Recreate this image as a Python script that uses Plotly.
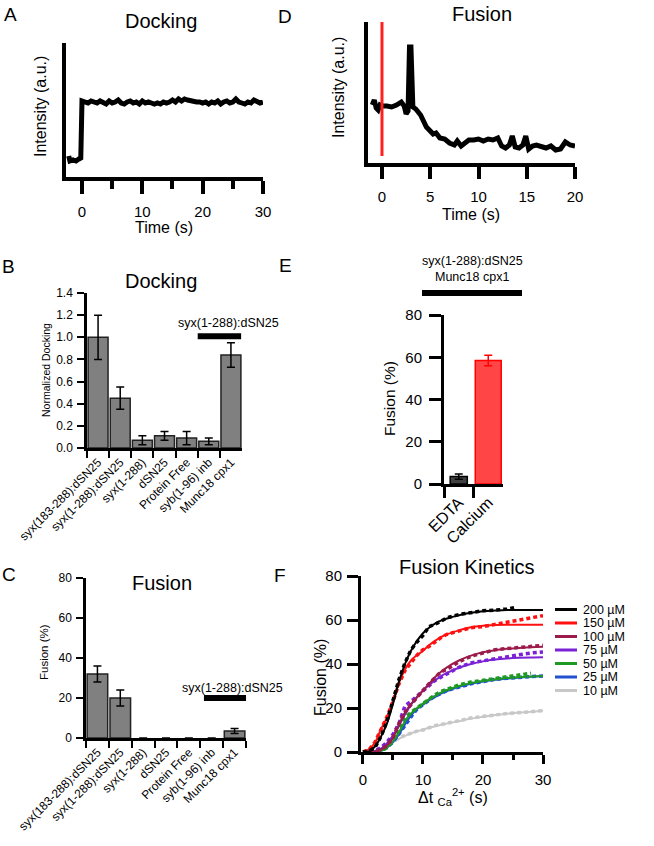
import plotly.graph_objects as go

W, H = 654, 846
FONT = "Liberation Sans, Arial, sans-serif"

# ---------------- Panel A: docking trace ----------------
dock_t = [-2.2, -2.0, -1.5, -1.0, -0.5, -0.2, 0.0, 0.5, 1.0, 1.5, 2.0, 2.5, 3.0, 3.5, 4.0, 4.5,
          5.0, 5.5, 6.0, 6.5, 7.0, 7.5, 8.0, 8.5, 9.0, 9.5, 10.0, 10.5, 11.0, 11.5, 12.0, 12.5,
          13.0, 13.5, 14.0, 14.5, 15.0, 15.5, 16.0, 16.5, 17.0, 17.5, 18.0, 18.5, 19.0, 19.5,
          20.0, 20.5, 21.0, 21.5, 22.0, 22.5, 23.0, 23.5, 24.0, 24.5, 25.0, 25.5, 26.0, 26.5,
          27.0, 27.5, 28.0, 28.5, 29.0, 29.5, 30.0]
dock_i = [21, 16, 17, 16, 18, 19, 76, 75, 74, 76, 75, 74, 76, 75, 73, 76,
          74, 75, 77, 74, 73, 75, 76, 74, 75, 73, 76, 74, 75, 74, 73, 74,
          73, 75, 74, 75, 77, 75, 78, 76, 78, 77, 76, 76, 75, 75,
          74, 75, 73, 75, 74, 76, 73, 75, 76, 74, 75, 78, 75, 74,
          73, 75, 74, 77, 76, 74, 75]

# ---------------- Panel D: fusion trace ----------------
fus_t = [-1.0, -0.8, -0.6, -0.4, -0.2, 0.0, 0.5, 1.0, 1.5, 2.0, 2.3, 2.5, 2.7, 2.85, 3.0, 3.2,
         3.5, 4.0, 4.3, 4.6, 5.0, 5.3, 5.6, 6.0, 6.5, 7.0, 7.5, 7.8, 8.2, 8.6, 9.0, 9.5,
         10.0, 10.5, 11.0, 11.5, 12.0, 12.4, 12.8, 13.2, 13.5, 13.8, 14.2, 14.6, 14.9, 15.2,
         15.6, 16.0, 16.5, 17.0, 17.5, 18.0, 18.5, 19.0, 19.5, 20.0]
fus_i = [58, 63, 55, 53, 58, 57, 57, 56, 58, 61, 57, 49, 52, 116, 116, 56,
         54, 48, 42, 36, 32, 29, 30, 25, 24, 20, 18, 22, 17, 20, 23, 23,
         24, 22, 24, 23, 25, 17, 15, 18, 27, 16, 15, 18, 27, 14,
         17, 18, 16, 15, 17, 13, 14, 21, 18, 17]
ca_marker_t = 0

# ---------------- Panels B / C: bar charts ----------------
conditions = ["syx(183-288):dSN25", "syx(1-288):dSN25", "syx(1-288)", "dSN25",
              "Protein Free", "syb(1-96) inb", "Munc18 cpx1"]
docking_norm = [1.0, 0.45, 0.07, 0.11, 0.09, 0.06, 0.84]
docking_err = [0.2, 0.1, 0.04, 0.04, 0.06, 0.03, 0.11]
fusion_pct = [32, 20, 0, 0, 0, 0, 3.5]
fusion_err = [4, 4, None, None, None, None, 1.2]

# ---------------- Panel E ----------------
e_conditions = ["EDTA", "Calcium"]
e_fusion = [3.5, 58.5]
e_err = [1.2, 2.5]
e_fill = ["#404040", "#ff4545"]
e_edge = ["#000000", "#ff0000"]
e_width = [0.58, 0.88]

# ---------------- Panel F: fusion kinetics ----------------
kin_t = [0, 1, 2, 3, 4, 5, 6, 7, 8, 9, 10, 11, 12, 13, 14, 16, 18, 20, 22, 24, 26, 28, 30]
kin_labels = ["200 µM", "150 µM", "100 µM", "75 µM", "50 µM", "25 µM", "10 µM"]
kin_colors = ["#000000", "#ff1010", "#9b1b4b", "#7b22d6", "#1e9a22", "#2050d0", "#c8c8c8"]
fit_200 = [0, 0.3, 2.5, 7, 13, 22, 32, 40, 46, 50.5, 54, 56.5, 58.4, 59.7, 60.7, 62.2, 63.3, 64, 64.3, 64.5, 64.5, 64.5, 64.5]
fit_150 = [0, 1.2, 4.3, 10.4, 15.7, 23, 31.5, 37.5, 41.6, 44, 46, 48.5, 50.5, 52.2, 53.5, 55.3, 56.7, 57.4, 57.7, 57.8, 57.8, 57.8, 57.8]
fit_100 = [0, 0, 0.3, 1, 3, 6.5, 12.5, 18, 21.8, 24.8, 27.9, 31, 34, 36.5, 38.5, 41.6, 43.8, 45.3, 46.3, 46.9, 47.3, 47.6, 47.8]
fit_75 = [0, 0, 0.5, 1.5, 4, 7.5, 12, 17, 21.5, 25, 28, 30.5, 32.5, 34.5, 36, 38.3, 40, 41.2, 42, 42.5, 42.8, 43, 43.1]
fit_50 = [0, 0, 0, 0.5, 2, 5, 9, 14, 17.5, 20, 22, 24, 25.5, 27, 28.2, 30, 31.3, 32.3, 33, 33.6, 34, 34.3, 34.5]
fit_25 = [0, 0, 0, 0.5, 2, 4.5, 8, 12.5, 16.5, 19.5, 21.5, 23.5, 25, 26.5, 27.7, 29.6, 31, 32, 32.8, 33.4, 33.9, 34.2, 34.5]
fit_10 = [0, 0, 0.5, 1.5, 3, 4.5, 6, 7.3, 8.5, 9.4, 10.2, 11, 11.7, 12.4, 13, 14, 15.2, 16, 16.8, 17.4, 17.9, 18.3, 18.8]

dat_t_200 = [0, 1, 2, 3, 4, 5, 6, 7, 8, 9, 10, 11, 12, 13, 14, 16, 18, 20, 22, 24, 25.5]
dat_200 = [0, 0.5, 2, 7, 14, 23, 33, 40.5, 46.5, 50, 53, 57, 58, 59.5, 61, 62.5, 63.5, 64.2, 64.5, 65, 65.8]
dat_150 = [0, 1, 4.5, 10, 16, 23, 31, 37, 40.5, 44, 46.5, 48, 50, 52, 53.5, 55, 56.5, 57, 58, 59, 60, 61, 62]
dat_100 = [0, 0, 0.5, 1, 3, 6.5, 13, 18, 21.5, 25, 28, 31, 33.5, 36.5, 37.5, 41, 43.5, 45, 46.5, 47, 47.5, 48, 48.5]
dat_75 = [0, 0, 0.5, 2, 4.5, 8, 13, 21, 23, 25.5, 28, 30, 32.5, 34, 35.5, 38.5, 40.5, 41.5, 42.5, 43.5, 44.2, 45, 45.5]
dat_t_50 = [0, 1, 2, 3, 4, 5, 6, 7, 8, 9, 10, 11, 12, 13, 14, 16, 18, 20, 22, 24, 26, 28]
dat_50 = [0, 0, 0, 0.5, 2, 5, 10, 15.5, 18, 20, 22, 24, 26, 27.5, 28.5, 30.5, 31.8, 32.5, 33.5, 34, 35, 35.8]
dat_25 = [0, 0, 0, 0.5, 2, 4.5, 8, 12, 16, 19.5, 21.5, 23.5, 25.5, 26.5, 28, 29.5, 31, 32, 33, 33.5, 34, 34.3, 34.5]
dat_10 = [0, 0, 0.5, 1.5, 3, 4.5, 6.5, 7.5, 8.5, 9.5, 10, 11, 12, 12.5, 13, 14.2, 15.5, 16, 16.8, 17.5, 17.8, 18.3, 18.8]

fits = [fit_200, fit_150, fit_100, fit_75, fit_50, fit_25, fit_10]
dats = [(dat_t_200, dat_200), (kin_t, dat_150), (kin_t, dat_100), (kin_t, dat_75),
        (dat_t_50, dat_50), (kin_t, dat_25), (kin_t, dat_10)]


def dom_x(a, b):
    return [a / W, b / W]


def dom_y(top, bottom):
    return [1 - bottom / H, 1 - top / H]


fig = go.Figure()

# A
fig.add_trace(go.Scatter(x=dock_t, y=dock_i, mode="lines", line=dict(color="black", width=5),
                         xaxis="x", yaxis="y", showlegend=False))
# D
fig.add_trace(go.Scatter(x=fus_t, y=fus_i, mode="lines", line=dict(color="black", width=5),
                         xaxis="x2", yaxis="y2", showlegend=False))
# B
fig.add_trace(go.Bar(x=conditions, y=docking_norm, width=0.9,
                     marker=dict(color="#808080", line=dict(color="#222222", width=1.5)),
                     error_y=dict(type="data", array=docking_err, color="black", thickness=1.5, width=4),
                     xaxis="x3", yaxis="y3", showlegend=False))
# E
for k in range(len(e_conditions)):
    fig.add_trace(go.Bar(x=[e_conditions[k]], y=[e_fusion[k]], width=e_width[k],
                         marker=dict(color=e_fill[k], line=dict(color=e_edge[k], width=1.5)),
                         error_y=dict(type="data", array=[e_err[k]], color=e_edge[k], thickness=1.5, width=4),
                         xaxis="x4", yaxis="y4", showlegend=False))
# C (zero-height bars drawn without an outline)
fig.add_trace(go.Bar(x=conditions, y=fusion_pct, width=0.9,
                     marker=dict(color="#808080",
                                 line=dict(color="#222222", width=[1.5 if v > 0 else 0 for v in fusion_pct])),
                     error_y=dict(type="data", array=fusion_err, color="black", thickness=1.5, width=4),
                     xaxis="x5", yaxis="y5", showlegend=False))
# F
for i in reversed(range(len(fits))):
    tx, ty = dats[i]
    fig.add_trace(go.Scatter(x=tx, y=ty, mode="lines",
                             line=dict(color=kin_colors[i], width=3.5, dash="4px,3px"),
                             xaxis="x6", yaxis="y6", showlegend=False))
    fig.add_trace(go.Scatter(x=kin_t, y=fits[i], mode="lines", name=kin_labels[i],
                             line=dict(color=kin_colors[i], width=2, shape="spline"),
                             xaxis="x6", yaxis="y6", showlegend=False))

base_axis = dict(showline=True, linecolor="black", showgrid=False, zeroline=False, automargin=False,
                 tickcolor="black", tickfont=dict(family=FONT, color="black"))


def ax(**kw):
    d = dict(base_axis)
    d.update(kw)
    return d


ncat = len(conditions)
layout = dict(
    template="none",
    width=W, height=H, margin=dict(l=0, r=0, t=0, b=0, autoexpand=False),
    paper_bgcolor="white", plot_bgcolor="white", showlegend=False, barmode="overlay",
    font=dict(family=FONT, color="black"), bargap=0.1,
    # A
    xaxis=ax(domain=dom_x(66, 263), anchor="y", range=[-2.65, 30], linewidth=4,
             ticks="outside", ticklen=13, tickwidth=4, tickvals=[0, 10, 20, 30],
             tickfont=dict(size=15, family=FONT, color="black"), ticklabelstandoff=5,
             minor=dict(tickvals=[5, 15, 25], ticks="outside", ticklen=8, tickwidth=4, tickcolor="black")),
    yaxis=ax(domain=dom_y(43, 177), anchor="x", range=[0, 134], linewidth=4,
             showticklabels=False, ticks=""),
    # D
    xaxis2=ax(domain=dom_x(368, 575), anchor="y2", range=[-1.45, 20], linewidth=3.5,
              ticks="outside", ticklen=12, tickwidth=3.5, tickvals=[0, 5, 10, 15, 20],
              tickfont=dict(size=15, family=FONT, color="black"), ticklabelstandoff=5),
    yaxis2=ax(domain=dom_y(22, 163), anchor="x2", range=[0, 141], linewidth=3.5,
              showticklabels=False, ticks=""),
    # B
    xaxis3=ax(domain=dom_x(87, 242), anchor="y3", type="category", linewidth=2.5,
              range=[-0.5, ncat - 0.5],
              ticks="outside", ticklen=7, tickwidth=2, tickson="boundaries", tickangle=-45,
              tickfont=dict(size=12, family=FONT, color="black")),
    yaxis3=ax(domain=dom_y(293, 448), anchor="x3", range=[0, 1.4], linewidth=2.5,
              ticks="outside", ticklen=7, tickwidth=2, dtick=0.2, tickformat=".1f",
              tickfont=dict(size=12, family=FONT, color="black"), ticklabelstandoff=2),
    # E
    xaxis4=ax(domain=dom_x(444, 503), anchor="y4", type="category", linewidth=3,
              range=[-0.5, len(e_conditions) - 0.5],
              ticks="outside", ticklen=11, tickwidth=3, tickson="boundaries", tickangle=-45,
              tickfont=dict(size=16, family=FONT, color="black")),
    yaxis4=ax(domain=dom_y(315, 484), anchor="x4", range=[0, 80], linewidth=3,
              ticks="outside", ticklen=12, tickwidth=3, dtick=20,
              tickfont=dict(size=15, family=FONT, color="black"), ticklabelstandoff=4),
    # C
    xaxis5=ax(domain=dom_x(86, 246), anchor="y5", type="category", linewidth=2.5,
              range=[-0.5, ncat - 0.5],
              ticks="outside", ticklen=7, tickwidth=2, tickson="boundaries", tickangle=-45,
              tickfont=dict(size=12, family=FONT, color="black")),
    yaxis5=ax(domain=dom_y(578, 738), anchor="x5", range=[0, 80], linewidth=2.5,
              ticks="outside", ticklen=7, tickwidth=2, dtick=20,
              tickfont=dict(size=12, family=FONT, color="black"), ticklabelstandoff=2),
    # F
    xaxis6=ax(domain=dom_x(361, 543), anchor="y6", range=[-0.33, 30], linewidth=3,
              ticks="outside", ticklen=9, tickwidth=3, tickvals=[0, 10, 20, 30],
              tickfont=dict(size=15, family=FONT, color="black"), ticklabelstandoff=3,
              minor=dict(tickvals=[5, 15, 25], ticks="outside", ticklen=5, tickwidth=3, tickcolor="black")),
    yaxis6=ax(domain=dom_y(576, 752), anchor="x6", range=[0, 80], linewidth=3,
              ticks="outside", ticklen=11, tickwidth=3, dtick=20,
              tickfont=dict(size=15, family=FONT, color="black"), ticklabelstandoff=2),
)

annotations = []
shapes = []


def text(x, y, s, size, angle=0, xanchor="center", yanchor="middle", xref="paper", yref="paper"):
    if xref == "paper":
        x = x / W
    if yref == "paper":
        y = 1 - y / H
    annotations.append(dict(x=x, y=y, xref=xref, yref=yref, text=s, showarrow=False,
                            font=dict(size=size, color="black", family=FONT), textangle=angle,
                            xanchor=xanchor, yanchor=yanchor, borderpad=0))


# panel letters
for letter, (lx, ly) in {"A": (10, 15), "D": (285, 16), "B": (8, 267),
                         "E": (285, 265), "C": (9, 574), "F": (280, 575)}.items():
    text(lx, ly, letter, 19)

# titles
text(161, 21, "Docking", 20)
text(482, 14, "Fusion", 20)
text(161, 281, "Docking", 20)
text(162, 583, "Fusion", 20)
text(467, 567, "Fusion Kinetics", 20)

# axis titles
text(40, 107, "Intensity (a.u.)", 16, angle=-90)
text(164, 228, "Time (s)", 16)
text(338, 88, "Intensity (a.u.)", 16, angle=-90)
text(471, 214, "Time (s)", 16)
text(46, 370, "Normalized Docking", 10.5, angle=-90)
text(44, 652, "Fusion (%)", 11.5, angle=-90)
text(390, 399, "Fusion (%)", 15.5, angle=-90)
text(320, 678, "Fusion (%)", 16, angle=-90)
text(453, 797, "Δt <sub>Ca</sub><sup>2+</sup> (s)", 16)

# condition bars / labels
text(5.87, 1.13, "syx(1-288):dSN25", 12.5, xref="x3", yref="y3")
shapes.append(dict(type="line", xref="x3", yref="y3", x0=4.5, x1=6.46, y0=1.01, y1=1.01,
                   line=dict(color="black", width=6)))
text(5.93, 25, "syx(1-288):dSN25", 12.5, xref="x5", yref="y5")
shapes.append(dict(type="line", xref="x5", yref="y5", x0=4.66, x1=6.59, y0=20, y1=20,
                   line=dict(color="black", width=6)))
text(472, 261, "syx(1-288):dSN25", 12.5)
text(472, 277, "Munc18 cpx1", 12.5)
shapes.append(dict(type="line", xref="paper", yref="paper", x0=422 / W, x1=522 / W,
                   y0=1 - 293 / H, y1=1 - 293 / H, line=dict(color="black", width=6)))

# Ca2+ addition marker in D
shapes.append(dict(type="line", xref="x2", yref="y2", x0=ca_marker_t, x1=ca_marker_t, y0=7, y1=141,
                   line=dict(color="#ff2020", width=3)))

# legend for F
for i, lab in enumerate(kin_labels):
    yy = 609.5 + i * 13.5
    shapes.append(dict(type="line", xref="paper", yref="paper", x0=555 / W, x1=577 / W,
                       y0=1 - yy / H, y1=1 - yy / H, line=dict(color=kin_colors[i], width=3)))
    text(582, yy, lab, 12.5, xanchor="left")

layout["annotations"] = annotations
layout["shapes"] = shapes
fig.update_layout(**layout)
fig.write_html("out.html", config={"displayModeBar": False},
               post_script="document.body.style.margin='0';document.body.style.padding='0';")
